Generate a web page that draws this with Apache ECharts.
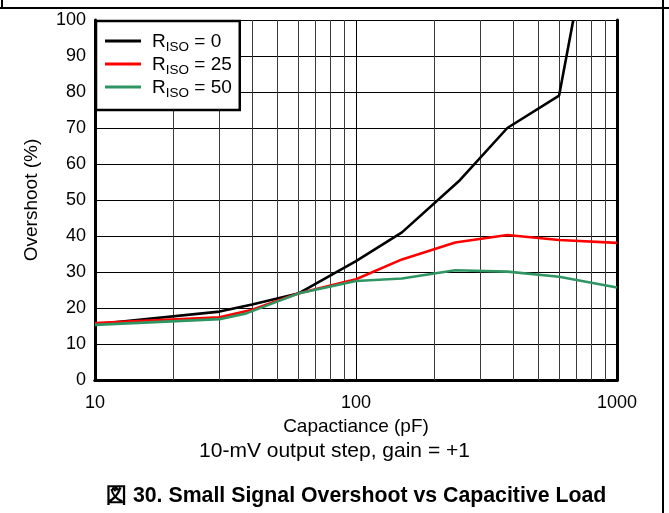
<!DOCTYPE html>
<html>
<head>
<meta charset="utf-8">
<script src="https://cdn.jsdelivr.net/npm/echarts@6/dist/echarts.min.js"></script>
<style>
  html, body { margin: 0; padding: 0; background: #fff; }
  #chart { width: 669px; height: 513px; }
</style>
</head>
<body>
<div id="chart"></div>
<script>
// Small-signal overshoot (%) versus capacitive load (pF) for three isolation resistors
const seriesNames = ['RISO = 0', 'RISO = 25', 'RISO = 50'];

const capRiso0 = [10, 30, 40, 60, 100, 150, 250, 380, 600, 680];
const overshootRiso0 = [15.5, 19, 21, 24, 33, 41, 55.5, 70, 79, 100];

const capRiso25 = [10, 30, 40, 60, 100, 150, 240, 380, 600, 1000];
const overshootRiso25 = [15.8, 17.4, 19.5, 24, 28, 33.5, 38.2, 40.3, 38.9, 38.1];

const capRiso50 = [10, 30, 38, 60, 100, 150, 240, 380, 600, 1000];
const overshootRiso50 = [15.3, 16.9, 18.5, 24, 27.5, 28.2, 30.5, 30.1, 28.7, 25.7];

const yTicks = [0, 10, 20, 30, 40, 50, 60, 70, 80, 90, 100];
const minorCaps = [20, 30, 40, 50, 60, 70, 80, 90, 200, 300, 400, 500, 600, 700, 800, 900];

const lineColors = ['#000000', '#ff0000', '#2f9663'];
const FONT = '"Liberation Sans", Arial, Helvetica, sans-serif';

const pairs = (xs, ys) => xs.map((x, i) => [x, ys[i]]);

const chart = echarts.init(document.getElementById('chart'), null, { renderer: 'canvas' });

const series = [
  { name: seriesNames[0], data: pairs(capRiso0, overshootRiso0), color: lineColors[0] },
  { name: seriesNames[1], data: pairs(capRiso25, overshootRiso25), color: lineColors[1] },
  { name: seriesNames[2], data: pairs(capRiso50, overshootRiso50), color: lineColors[2] }
].map((s, i) => ({
  type: 'line',
  name: s.name,
  data: s.data,
  color: s.color,
  symbol: 'none',
  clip: true,
  z: 5 + i,
  lineStyle: { color: s.color, width: 2.6 },
  // minor decade gridlines live on the first series
  markLine: i === 0 ? {
    silent: true,
    symbol: 'none',
    label: { show: false },
    z: 1,
    lineStyle: { color: '#3a3a3a', width: 1, type: 'solid' },
    data: minorCaps.map(c => ({ xAxis: c }))
  } : undefined
}));

const option = {
  animation: false,
  backgroundColor: '#ffffff',
  textStyle: { fontFamily: FONT },
  grid: { left: 95, right: 52, top: 20, bottom: 133, containLabel: false },
  xAxis: [{
    type: 'log',
    logBase: 10,
    min: 10,
    max: 1000,
    name: 'Capactiance (pF)',
    nameLocation: 'middle',
    nameGap: 35,
    nameTextStyle: { fontSize: 19, color: '#000', fontFamily: FONT },
    axisLine: { show: true, lineStyle: { color: '#000', width: 3 } },
    axisTick: { show: false },
    axisLabel: {
      fontSize: 18, color: '#000', margin: 14, fontFamily: FONT,
      formatter: v => String(Math.round(v))
    },
    splitLine: { show: true, lineStyle: { color: '#000', width: 1 } }
  }, {
    type: 'log',
    logBase: 10,
    min: 10,
    max: 1000,
    position: 'top',
    axisLine: { show: true, lineStyle: { color: '#000', width: 3 } },
    axisTick: { show: false },
    axisLabel: { show: false },
    splitLine: { show: false }
  }],
  yAxis: [{
    type: 'value',
    min: yTicks[0],
    max: yTicks[yTicks.length - 1],
    interval: 10,
    name: 'Overshoot (%)',
    nameLocation: 'middle',
    nameGap: 54,
    nameTextStyle: { fontSize: 19, color: '#000', fontFamily: FONT },
    axisLine: { show: true, lineStyle: { color: '#000', width: 3 } },
    axisTick: { show: false },
    axisLabel: { fontSize: 18, color: '#000', margin: 9, fontFamily: FONT },
    splitLine: { show: true, lineStyle: { color: '#000', width: 1 } }
  }, {
    type: 'value',
    min: yTicks[0],
    max: yTicks[yTicks.length - 1],
    interval: 10,
    position: 'right',
    axisLine: { show: true, lineStyle: { color: '#000', width: 3 } },
    axisTick: { show: false },
    axisLabel: { show: false },
    splitLine: { show: false }
  }],
  legend: {
    data: seriesNames,
    orient: 'vertical',
    left: 96,
    top: 21,
    padding: [11, 8, 10, 9],
    itemGap: 1,
    itemWidth: 36,
    itemHeight: 3,
    icon: 'rect',
    backgroundColor: '#ffffff',
    borderColor: '#000',
    borderWidth: 2.5,
    borderRadius: 0,
    z: 10,
    formatter: name => {
      const rest = name.replace('RISO', '');
      return '{r|R}{s|ISO}{r|' + rest + '}';
    },
    textStyle: {
      color: '#000',
      fontFamily: FONT,
      padding: [0, 0, 0, 6],
      rich: {
        r: { fontSize: 19, lineHeight: 20, color: '#000', fontFamily: FONT, verticalAlign: 'bottom' },
        s: { fontSize: 13.5, lineHeight: 20, color: '#000', fontFamily: FONT, verticalAlign: 'bottom', padding: [0, 0, -3, 0] }
      }
    }
  },
  graphic: [
    { type: 'line', shape: { x1: 0, y1: 8, x2: 669, y2: 8 }, style: { stroke: '#000', lineWidth: 2 }, silent: true },
    { type: 'line', shape: { x1: 663, y1: 0, x2: 663, y2: 513 }, style: { stroke: '#000', lineWidth: 2 }, silent: true },
    { type: 'line', shape: { x1: 2, y1: 0, x2: 2, y2: 8 }, style: { stroke: '#000', lineWidth: 2 }, silent: true },
    {
      type: 'text', left: 'center', top: 441,
      style: { text: '10-mV output step, gain = +1', font: '21px ' + FONT, fill: '#000' }
    },
    {
      type: 'text', left: 106, top: 486,
      style: { text: '図 30. Small Signal Overshoot vs Capacitive Load', font: 'bold 21.3px ' + FONT, fill: '#000' }
    }
  ],
  series: series
};

chart.setOption(option);
</script>
</body>
</html>
